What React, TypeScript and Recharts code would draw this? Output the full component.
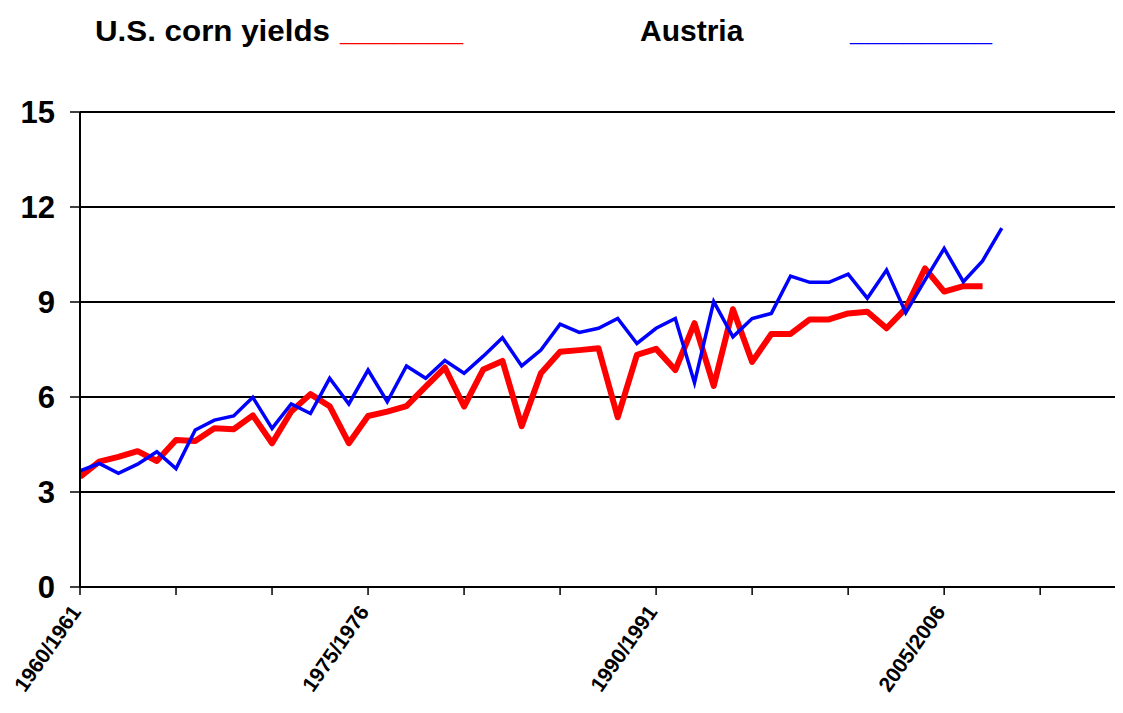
import React from "react";
import { LineChart, Line, XAxis, YAxis, CartesianGrid, Legend } from "recharts";

const startYears: number[] = Array.from({ length: 55 }, (_, i) => 1960 + i);
const categories: string[] = startYears.map((y) => `${y}/${y + 1}`);

const usCornYields: number[] = [
  3.48, 3.96, 4.11, 4.29, 3.98, 4.64, 4.61, 5.01, 4.98, 5.42,
  4.54, 5.54, 6.09, 5.71, 4.54, 5.40, 5.54, 5.71, 6.33, 6.93,
  5.70, 6.87, 7.14, 5.08, 6.75, 7.43, 7.48, 7.54, 5.36, 7.33,
  7.52, 6.85, 8.33, 6.35, 8.77, 7.11, 7.99, 7.99, 8.45, 8.45,
  8.64, 8.69, 8.17, 8.80, 10.06, 9.33, 9.50, 9.50,
];

const austriaYields: number[] = [
  3.67, 3.90, 3.59, 3.88, 4.27, 3.74, 4.96, 5.27, 5.40, 5.99,
  5.01, 5.78, 5.48, 6.59, 5.78, 6.85, 5.85, 6.98, 6.59, 7.15,
  6.75, 7.29, 7.87, 6.98, 7.48, 8.30, 8.04, 8.17, 8.48, 7.69,
  8.17, 8.48, 6.45, 9.01, 7.90, 8.48, 8.64, 9.82, 9.62, 9.62,
  9.88, 9.12, 10.01, 8.66, 9.69, 10.69, 9.64, 10.30, 11.33,
];

const xTickIdx: number[] = [0, 5, 10, 15, 20, 25, 30, 35, 40, 45, 50];
const labeledIdx: number[] = [0, 15, 30, 45];
const yTicks: number[] = [0, 3, 6, 9, 12, 15];

const data = categories.map((c, i) => ({
  idx: i,
  cat: c,
  us: i < usCornYields.length ? usCornYields[i] : null,
  austria: i < austriaYields.length ? austriaYields[i] : null,
}));

const FONT = "'Liberation Sans', Arial, sans-serif";

const XTick = (props: any) => {
  const { x, y, payload } = props;
  const v = payload.value as number;
  if (!labeledIdx.includes(v)) return null;
  return (
    <g transform={`translate(${x + 2},${y + 17})`}>
      <text
        textAnchor="end"
        transform="rotate(-55)"
        fontFamily={FONT}
        fontWeight="bold"
        fontSize={21}
        fill="#000"
      >
        {categories[v]}
      </text>
    </g>
  );
};

const LegendContent = () => (
  <svg width={1115} height={60} style={{ display: "block" }}>
    <text x={87} y={33} fontFamily={FONT} fontWeight="bold" fontSize={30} fill="#000" textLength={235} lengthAdjust="spacingAndGlyphs">
      U.S. corn yields
    </text>
    <text x={332} y={33} fontFamily={FONT} fontWeight="bold" fontSize={30} fill="#ff0000" textLength={123} lengthAdjust="spacingAndGlyphs">
      _______
    </text>
    <text x={632} y={33} fontFamily={FONT} fontWeight="bold" fontSize={30} fill="#000">
      Austria
    </text>
    <text x={842} y={33} fontFamily={FONT} fontWeight="bold" fontSize={30} fill="#0000ff" textLength={142} lengthAdjust="spacingAndGlyphs">
      ________
    </text>
  </svg>
);

export default function App() {
  return (
    <div style={{ width: 1115, height: 705 }}>
      <LineChart
        width={1115}
        height={705}
        data={data}
        margin={{ top: 44, right: 6, left: 0, bottom: 6 }}
      >
        <CartesianGrid vertical={false} stroke="#000" strokeWidth={1.8} />
        <XAxis
          type="number"
          dataKey="idx"
          domain={[0, 54]}
          ticks={xTickIdx}
          interval={0}
          height={120}
          tickSize={8}
          tickMargin={0}
          axisLine={{ stroke: "#000", strokeWidth: 2 }}
          tickLine={{ stroke: "#000", strokeWidth: 1.5 }}
          tick={<XTick />}
          allowDataOverflow
        />
        <YAxis
          type="number"
          domain={[0, 15]}
          ticks={yTicks}
          interval={0}
          width={72}
          tickSize={10}
          tickMargin={15}
          axisLine={{ stroke: "#000", strokeWidth: 2 }}
          tickLine={{ stroke: "#000", strokeWidth: 1.5 }}
          tick={{ fill: "#000", fontSize: 31, fontWeight: "bold", fontFamily: FONT }}
        />
        <Legend
          verticalAlign="top"
          align="left"
          content={<LegendContent />}
          wrapperStyle={{ top: 0, left: 0, width: 1115, height: 60 }}
        />
        <Line
          type="linear"
          dataKey="us"
          stroke="#ff0000"
          strokeWidth={6}
          dot={false}
          isAnimationActive={false}
          strokeLinejoin="round"
        />
        <Line
          type="linear"
          dataKey="austria"
          stroke="#0000ff"
          strokeWidth={3.5}
          dot={false}
          isAnimationActive={false}
          strokeLinejoin="miter"
        />
      </LineChart>
    </div>
  );
}
